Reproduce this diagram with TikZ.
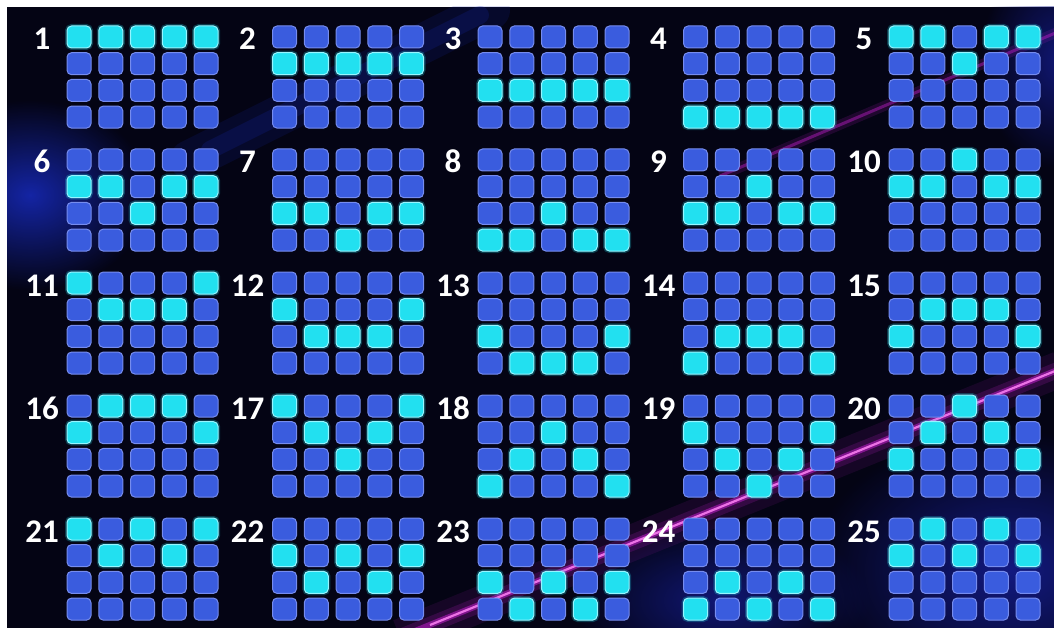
\documentclass[tikz,border=0pt]{standalone}
\usepackage{fontspec}
\setmainfont{Carlito}
\usetikzlibrary{fadings}
\definecolor{bgdark}{RGB}{4,4,20}
\definecolor{haze}{RGB}{22,40,180}
\definecolor{hazedeep}{RGB}{20,28,140}
\definecolor{cellblue}{RGB}{58,92,222}
\definecolor{cellrim}{RGB}{118,140,238}
\definecolor{cyanfill}{RGB}{34,224,240}
\definecolor{cyanrim}{RGB}{150,245,255}
\definecolor{beamglow}{RGB}{190,30,200}
\definecolor{beamcore}{RGB}{255,130,245}
\tikzfading[name=softglow, inner color=transparent!0, outer color=transparent!100]
\begin{document}
\begin{tikzpicture}[x=1pt,y=-1pt,
  cellbox/.style={draw=cellrim, line width=1pt, fill=cellblue, rounded corners=4.5pt,
    minimum width=24pt, minimum height=22pt, inner sep=0pt},
  hitbox/.style={cellbox, draw=cyanrim, fill=cyanfill,
    preaction={draw=cyanfill, line width=4pt, opacity=0.25}},
  numlabel/.style={text=white, font=\fontsize{33}{36}\selectfont\bfseries, inner sep=0pt, anchor=base},
  glow/.style={path fading=softglow, fill opacity=#1},
  glow/.default=1]
\useasboundingbox (0,0) rectangle (1054,628);
\fill[white] (0,0) rectangle (1054,628);
\fill[bgdark] (7,7) rectangle (1054,628);
\begin{scope}
  \clip (7,7) rectangle (1054,628);
  % blue hazes
  \fill[haze, glow=0.9] (30,195) ellipse [x radius=120pt, y radius=95pt];
  \fill[hazedeep, glow=0.9] (1010,570) ellipse [x radius=200pt, y radius=140pt];
  \fill[hazedeep, glow=0.8] (720,600) ellipse [x radius=150pt, y radius=80pt];
  \fill[hazedeep, glow=0.8] (1060,60) ellipse [x radius=80pt, y radius=110pt];
  % diagonal blue streak at the top
  \draw[haze, line width=40pt, opacity=0.15, line cap=round] (190,160) -- (490,10);
  \draw[haze, line width=18pt, opacity=0.2, line cap=round] (210,150) -- (480,15);
  % upper magenta line
  \draw[beamglow, line width=10pt, opacity=0.15] (720,176) -- (1060,31);
  \draw[beamglow, line width=3pt, opacity=0.45] (720,176) -- (1060,31);
  % main pink beam
  \draw[beamglow, line width=36pt, opacity=0.10] (400,637) -- (1060,369);
  \draw[beamglow, line width=16pt, opacity=0.18] (400,637) -- (1060,369);
  \draw[beamglow, line width=6pt, opacity=0.55] (410,633) -- (1060,369);
  \draw[beamcore, line width=2.2pt, opacity=0.85] (430,625) -- (1060,369);
\end{scope}
\foreach \pat [count=\n] in {{0,0,0,0,0},{1,1,1,1,1},{2,2,2,2,2},{3,3,3,3,3},{0,0,1,0,0},
  {1,1,2,1,1},{2,2,3,2,2},{3,3,2,3,3},{2,2,1,2,2},{1,1,0,1,1},
  {0,1,1,1,0},{1,2,2,2,1},{2,3,3,3,2},{3,2,2,2,3},{2,1,1,1,2},
  {1,0,0,0,1},{0,1,2,1,0},{3,2,1,2,3},{1,2,3,2,1},{2,1,0,1,2},
  {0,1,0,1,0},{1,2,1,2,1},{2,3,2,3,2},{3,2,3,2,3},{1,0,1,0,1}} {
  \pgfmathtruncatemacro{\pc}{mod(\n-1,5)}
  \pgfmathtruncatemacro{\pr}{div(\n-1,5)}
  \pgfmathsetmacro{\xo}{67+205.5*\pc}
  \pgfmathsetmacro{\yo}{26+123*\pr}
  \node[numlabel] (num\n) at (\xo-25,\yo+24) {\n};
  \foreach \hr [count=\c from 0] in \pat {
    \foreach \r in {0,...,3} {
      \ifnum\r=\hr
        \node[hitbox] (cell-\n-\r-\c) at (\xo+12+31.75*\c,\yo+11+26.7*\r) {};
      \else
        \node[cellbox] (cell-\n-\r-\c) at (\xo+12+31.75*\c,\yo+11+26.7*\r) {};
      \fi
    }
  }
}
\end{tikzpicture}
\end{document}
